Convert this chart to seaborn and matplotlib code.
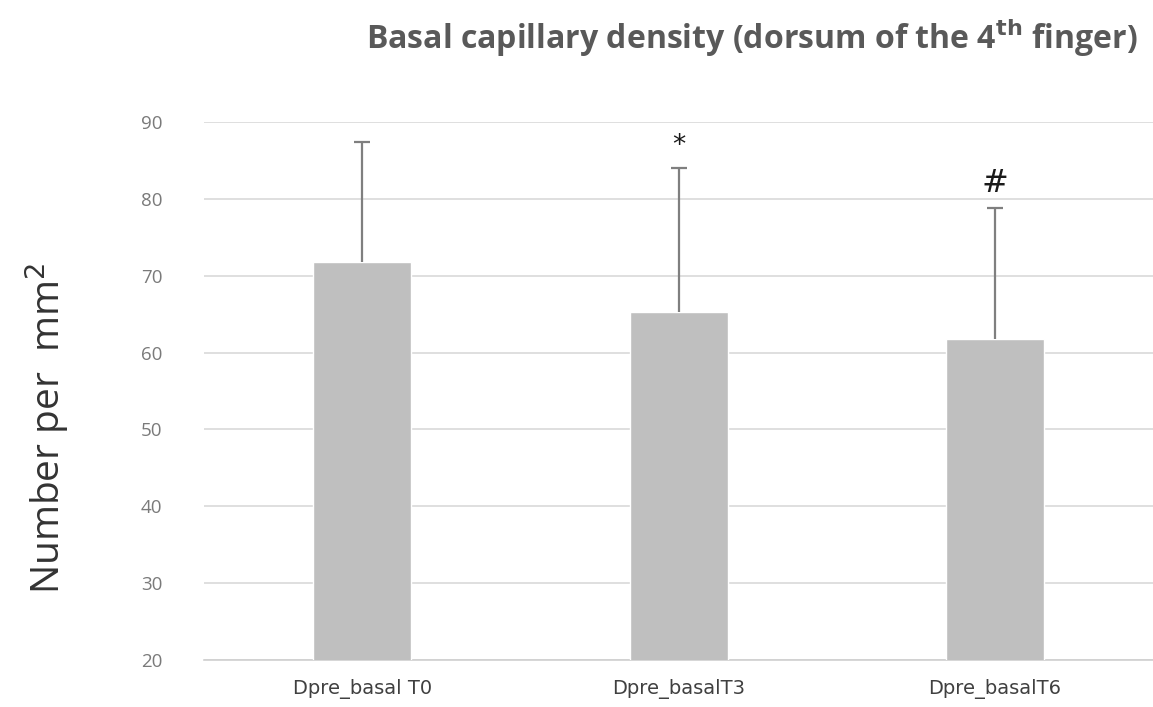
import matplotlib
matplotlib.use("Agg")
import matplotlib.pyplot as plt
import seaborn as sns
import pandas as pd

categories = ["Dpre_basal T0", "Dpre_basalT3", "Dpre_basalT6"]
means = [71.8, 65.3, 61.8]
upper_sd = [15.6, 18.7, 17.0]
markers = ["", "*", "#"]
y_ticks = [20, 30, 40, 50, 60, 70, 80, 90]

sns.set_theme(style="white")
plt.rcParams["font.family"] = ["Open Sans", "DejaVu Sans"]

df = pd.DataFrame({"group": categories, "value": means})
tops = [m + u for m, u in zip(means, upper_sd)]

fig = plt.figure(figsize=(11.53, 7.07), dpi=100)
ax = fig.add_axes([0.177, 0.0665, 0.823, 0.761])

sns.barplot(data=df, x="group", y="value", color="#bfbfbf", width=0.31,
            saturation=1, ax=ax, zorder=3)
# upper error bars only, cap on top
ax.vlines(range(len(categories)), means, tops, color="#7f7f7f",
          linewidth=1.6, zorder=4)
ax.plot(range(len(categories)), tops, linestyle="none", marker="_",
        markersize=11, markeredgewidth=1.6, color="#7f7f7f", zorder=4)

for i, m in enumerate(markers):
    if m:
        ax.text(i, tops[i] + 1.2, m, ha="center", va="bottom",
                fontsize=19 if m == "*" else 23, color="#1a1a1a",
                family="DejaVu Sans")

ax.set_ylim(20, 90)
ax.set_xlim(-0.5, 2.5)
ax.set_yticks(y_ticks)
ax.yaxis.grid(True, color="#d9d9d9", linewidth=1.2, zorder=0)
ax.set_axisbelow(True)
for s in ["top", "right", "left"]:
    ax.spines[s].set_visible(False)
ax.spines["bottom"].set_color("#d0d0d0")
ax.spines["bottom"].set_linewidth(1.2)
ax.tick_params(axis="y", length=0, pad=30, labelsize=13.5, labelcolor="#7a7a7a")
ax.tick_params(axis="x", length=0, pad=14, labelcolor="#404040")
for lbl in ax.get_xticklabels():
    lbl.set_family(["Liberation Sans Narrow", "DejaVu Sans"])
    lbl.set_fontsize(14)
ax.set_xlabel("")
ax.set_ylabel("Number per  mm$^2$", fontsize=28, color="#333333")
ax.yaxis.set_label_coords(-0.14, 0.43)

fig.text(0.652, 0.946, r"Basal capillary density (dorsum of the 4$^{\mathbf{th}}$ finger)",
         ha="center", va="center", fontsize=23, fontweight="bold", color="#595959")

fig.savefig("out.png", dpi=100)
